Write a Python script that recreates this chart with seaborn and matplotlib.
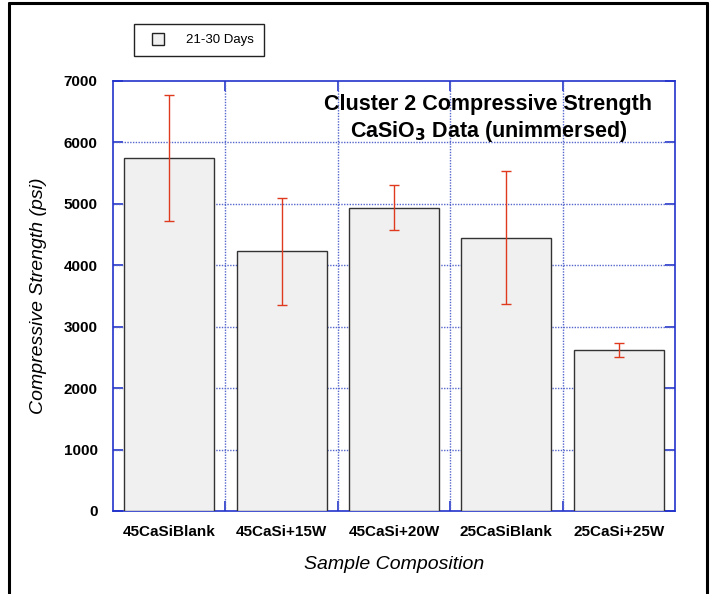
import matplotlib
matplotlib.use("Agg")
import matplotlib.pyplot as plt
import seaborn as sns
import pandas as pd
import numpy as np
from matplotlib.lines import Line2D

categories = ["45CaSiBlank", "45CaSi+15W", "45CaSi+20W", "25CaSiBlank", "25CaSi+25W"]
strength = [5750, 4230, 4940, 4450, 2620]
strength_err = [1030, 870, 360, 1080, 115]
y_ticks = [0, 1000, 2000, 3000, 4000, 5000, 6000, 7000]
series_label = "21-30 Days"

sns.set_theme(style="white")
plt.rcParams["font.family"] = ["Liberation Sans", "DejaVu Sans"]
plt.rcParams["text.color"] = "black"
plt.rcParams["axes.labelcolor"] = "black"
plt.rcParams["xtick.color"] = "black"
plt.rcParams["ytick.color"] = "black"

df = pd.DataFrame({"composition": categories, "strength": strength})

fig = plt.figure(figsize=(7.13, 5.94), dpi=100)
ax = fig.add_axes([113 / 713, 1 - 511 / 594, 562 / 713, 430 / 594])

sns.barplot(data=df, x="composition", y="strength", ax=ax, errorbar=None,
            color="#f0f0f0", saturation=1, width=0.8,
            edgecolor="#333333", linewidth=1.0, zorder=3)
ax.errorbar(np.arange(len(categories)), strength, yerr=strength_err,
            fmt="none", ecolor="#e03a1e", elinewidth=1.0, capsize=3.5,
            capthick=1.0, zorder=4)

ax.set_xlim(-0.5, len(categories) - 0.5)
ax.set_ylim(0, 7000)
ax.set_yticks(y_ticks)
ax.set_yticklabels([str(v) for v in y_ticks], fontweight="bold", fontsize=11)
ax.set_xticks(range(len(categories)))
ax.set_xticklabels(categories, fontweight="bold", fontsize=11)
ax.set_xticks(np.arange(0.5, len(categories) - 1, 1.0), minor=True)

ax.grid(False)
for yv in y_ticks[1:-1]:
    ax.axhline(yv, color="#5566cc", linestyle=(0, (1, 1)), linewidth=1.0, zorder=1)
for xv in np.arange(0.5, len(categories) - 1, 1.0):
    ax.axvline(xv, color="#5566cc", linestyle=(0, (1, 1)), linewidth=1.0, zorder=1)

ax.tick_params(axis="y", which="major", direction="in", length=7, width=1.2,
               color="#2233cc", labelcolor="black", left=True, right=True, pad=11)
ax.tick_params(axis="x", which="major", length=0, pad=10, labelcolor="black")
ax.tick_params(axis="x", which="minor", direction="in", length=7, width=1.2,
               color="#2233cc", bottom=True, top=True)
for side in ["left", "right", "top", "bottom"]:
    ax.spines[side].set_visible(True)
    ax.spines[side].set_color("#2233cc")
    ax.spines[side].set_linewidth(1.2)

ax.set_xlabel("Sample Composition", fontstyle="italic", fontsize=14, labelpad=12, color="black")
ax.set_ylabel("Compressive Strength (psi)", fontstyle="italic", fontsize=14, labelpad=12, color="black")

ax.text(0.668, 0.945, "Cluster 2 Compressive Strength", transform=ax.transAxes,
        ha="center", va="center", fontsize=15.5, fontweight="bold", color="black", zorder=5)
ax.text(0.668, 0.882, r"CaSiO$_\mathbf{3}$ Data (unimmersed)", transform=ax.transAxes,
        ha="center", va="center", fontsize=15.5, fontweight="bold", color="black", zorder=5)

handle = Line2D([], [], marker="s", linestyle="none", markersize=8,
                markerfacecolor="#f0f0f0", markeredgecolor="#222222", markeredgewidth=1.0)
leg = fig.legend([handle], [series_label], loc="upper left",
                 bbox_to_anchor=(134 / 713, 1 - 24 / 594), frameon=True, fancybox=False,
                 edgecolor="#222222", framealpha=1, fontsize=9.5, borderpad=0.75,
                 handlelength=2.2, handletextpad=1.0, borderaxespad=0)
leg.get_frame().set_linewidth(1.0)
for t in leg.get_texts():
    t.set_color("black")

# page frame around the chart (left, top, right)
fig.add_artist(Line2D([9 / 713, 9 / 713], [0, 1 - 3 / 594], transform=fig.transFigure,
                      color="black", linewidth=2.2))
fig.add_artist(Line2D([9 / 713, 707 / 713], [1 - 3 / 594, 1 - 3 / 594], transform=fig.transFigure,
                      color="black", linewidth=2.2))
fig.add_artist(Line2D([707 / 713, 707 / 713], [0, 1 - 3 / 594], transform=fig.transFigure,
                      color="black", linewidth=2.2))

fig.savefig("out.png", dpi=100, facecolor="white")
